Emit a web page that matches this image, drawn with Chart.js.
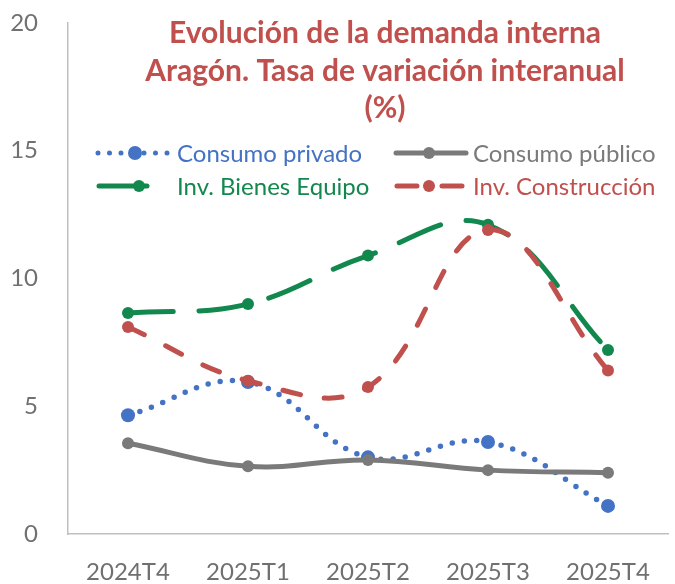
<!DOCTYPE html>
<html>
<head>
<meta charset="utf-8">
<script src="https://cdn.jsdelivr.net/npm/chart.js@4/dist/chart.umd.min.js"></script>
<style>
html,body{margin:0;padding:0;background:#fff;}
#wrap{position:relative;width:675px;height:584px;}
</style>
</head>
<body>
<div id="wrap"><canvas id="c" width="675" height="584"></canvas></div>
<script>
const categories = ["2024T4","2025T1","2025T2","2025T3","2025T4"];
const consumoPrivado = [4.65, 5.95, 3.0, 3.6, 1.1];
const consumoPublico = [3.55, 2.65, 2.9, 2.5, 2.4];
const invBienesEquipo = [8.65, 9.0, 10.9, 12.1, 7.2];
const invConstruccion = [8.1, 6.0, 5.75, 11.9, 6.4];
const yTicks = [0, 5, 10, 15, 20];
const titleLines = ["Evolución de la demanda interna", "Aragón. Tasa de variación interanual", "(%)"];
const seriesNames = ["Consumo privado", "Consumo público", "Inv. Bienes Equipo", "Inv. Construcción"];

const BLUE = "#4472C4", GRAY = "#7A7A7A", GREEN = "#12884E", RED = "#C0504D";
const FONT = "Lato, 'Open Sans', sans-serif";

const overlayPlugin = {
  id: "overlay",
  afterDraw(chart) {
    const ctx = chart.ctx;
    ctx.save();
    ctx.fillStyle = RED;
    ctx.font = "bold 30px " + FONT;
    ctx.textAlign = "center";
    ctx.textBaseline = "middle";
    const ty = [33, 71, 108];
    titleLines.forEach((t, i) => ctx.fillText(t, 385, ty[i]));
    const items = [
      {name: seriesNames[0], color: BLUE, type: "dot", x1: 98, x2: 168, mx: 135, r: 7, tx: 177, y: 153},
      {name: seriesNames[1], color: GRAY, type: "solid", x1: 396, x2: 466, mx: 429, r: 6, tx: 473, y: 153},
      {name: seriesNames[2], color: GREEN, type: "solid", x1: 99, x2: 147, mx: 139, r: 6, tx: 177, y: 186},
      {name: seriesNames[3], color: RED, type: "split", x1: 397, x2: 462, mx: 429, r: 6, tx: 473, y: 186}
    ];
    items.forEach(it => {
      ctx.strokeStyle = it.color;
      ctx.lineWidth = 5;
      ctx.lineCap = "round";
      ctx.beginPath();
      if (it.type === "dot") {
        ctx.setLineDash([0, 11.5]);
        ctx.moveTo(it.x1, it.y); ctx.lineTo(it.x2, it.y);
      } else if (it.type === "split") {
        ctx.setLineDash([]);
        ctx.moveTo(it.x1, it.y); ctx.lineTo(it.x1 + 20, it.y);
        ctx.moveTo(it.x2 - 20, it.y); ctx.lineTo(it.x2, it.y);
      } else {
        ctx.setLineDash([]);
        ctx.moveTo(it.x1, it.y); ctx.lineTo(it.x2, it.y);
      }
      ctx.stroke();
      ctx.setLineDash([]);
      ctx.fillStyle = it.color;
      ctx.beginPath();
      ctx.arc(it.mx, it.y, it.r, 0, Math.PI * 2);
      ctx.fill();
      ctx.font = "24px " + FONT;
      ctx.textAlign = "left";
      ctx.textBaseline = "middle";
      ctx.fillText(it.name, it.tx, it.y + 1);
    });
    ctx.restore();
  }
};

new Chart(document.getElementById("c"), {
  type: "line",
  data: {
    labels: categories,
    datasets: [
      {label: seriesNames[0], data: consumoPrivado, borderColor: BLUE, backgroundColor: BLUE,
       borderWidth: 5.5, borderDash: [0, 12.3], borderCapStyle: "round", pointRadius: 7, pointBorderWidth: 0, order: 4, tension: 0.4},
      {label: seriesNames[1], data: consumoPublico, borderColor: GRAY, backgroundColor: GRAY,
       borderWidth: 5, pointRadius: 6, pointBorderWidth: 0, order: 3, tension: 0.4},
      {label: seriesNames[2], data: invBienesEquipo, borderColor: GREEN, backgroundColor: GREEN,
       borderWidth: 5, borderDash: [45, 26], borderCapStyle: "round", pointRadius: 6, pointBorderWidth: 0, order: 2, tension: 0.4},
      {label: seriesNames[3], data: invConstruccion, borderColor: RED, backgroundColor: RED,
       borderWidth: 5, borderDash: [18, 24], borderCapStyle: "round", pointRadius: 6, pointBorderWidth: 0, order: 1, tension: 0.4}
    ]
  },
  options: {
    responsive: false,
    animation: false,
    layout: {padding: {top: 23, right: 0, left: 0, bottom: 0}},
    plugins: {legend: {display: false}, title: {display: false}, tooltip: {enabled: false}},
    scales: {
      x: {
        offset: true,
        grid: {display: false, drawTicks: false},
        border: {display: true, color: "#BFBFBF", width: 1.5},
        ticks: {color: "#707070", font: {size: 24, family: FONT}, padding: 24, maxRotation: 0},
        afterFit(s) { s.height = 50; s.paddingLeft = 0; s.paddingRight = 0; }
      },
      y: {
        min: 0, max: 20,
        grid: {display: false, drawTicks: false},
        border: {display: true, color: "#BFBFBF", width: 1.5},
        afterBuildTicks(s) { s.ticks = yTicks.map(v => ({value: v})); },
        ticks: {color: "#707070", font: {size: 24, family: FONT}, padding: 30},
        afterFit(s) { s.width = 68; s.paddingTop = 0; s.paddingBottom = 0; }
      }
    }
  },
  plugins: [overlayPlugin]
});
</script>
</body>
</html>
